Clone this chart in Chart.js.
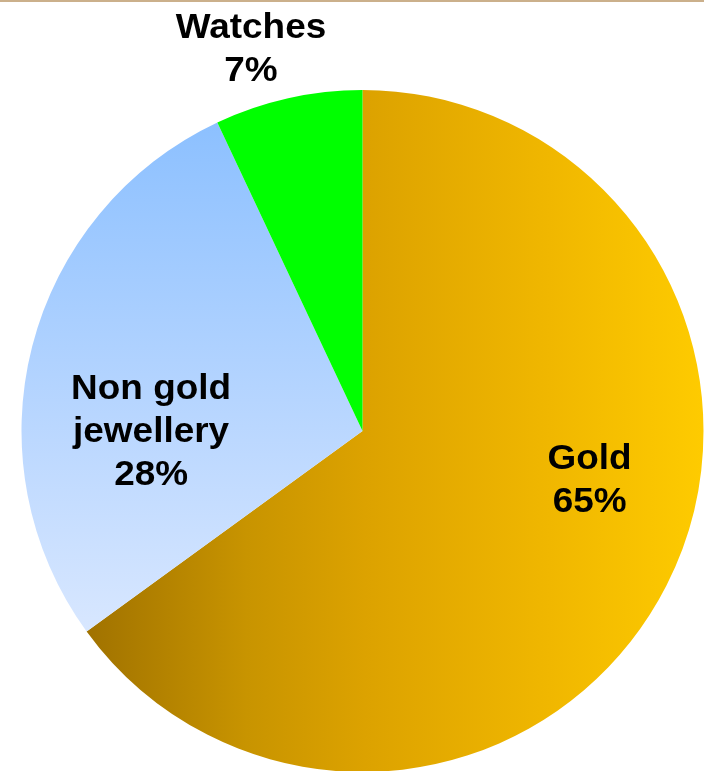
<!DOCTYPE html>
<html>
<head>
<meta charset="utf-8">
<script src="https://cdn.jsdelivr.net/npm/chart.js@4/dist/chart.umd.min.js"></script>
<style>
  html, body { margin: 0; padding: 0; background: #fff; overflow: hidden; width: 704px; height: 771px; }
  #topline { position: absolute; left: 0; top: 0; width: 704px; height: 2px; background: #CBB08B; z-index: 2; }
  #wrap { position: absolute; left: 0; top: 0; width: 704px; height: 800px; }
</style>
</head>
<body>
<div id="topline"></div>
<div id="wrap"><canvas id="c" width="704" height="800"></canvas></div>
<script>
const categories = ["Gold", "Non gold jewellery", "Watches"];
const values = [65, 28, 7];
const labelLines = [["Gold", "65%"], ["Non gold", "jewellery", "28%"], ["Watches", "7%"]];
// label block centre offsets, as fractions of the radius, from pie centre
const labelOffsets = [[0.666, 0.138], [-0.620, -0.004], [-0.327, -1.127]];

function pieGeom(chart) {
  const a = chart.chartArea;
  const meta = chart.getDatasetMeta(0);
  const el = meta.data[0];
  if (el && el.outerRadius) return { cx: el.x, cy: el.y, r: el.outerRadius };
  return { cx: (a.left + a.right) / 2, cy: (a.top + a.bottom) / 2, r: Math.min(a.right - a.left, a.bottom - a.top) / 2 };
}

function sliceColor(context) {
  const chart = context.chart;
  const a = chart.chartArea;
  if (!a) return '#E0A400';
  const g = pieGeom(chart);
  const ctx = chart.ctx;
  const i = context.dataIndex;
  if (i === 0) {
    const gr = ctx.createLinearGradient(g.cx - 0.81 * g.r, 0, g.cx + g.r, 0);
    gr.addColorStop(0, '#A07200');
    gr.addColorStop(0.26, '#C89400');
    gr.addColorStop(0.45, '#DCA200');
    gr.addColorStop(0.75, '#F0B700');
    gr.addColorStop(1, '#FECB00');
    return gr;
  }
  if (i === 1) {
    const gr = ctx.createLinearGradient(0, g.cy - 0.91 * g.r, 0, g.cy + 0.59 * g.r);
    gr.addColorStop(0, '#8CC0FF');
    gr.addColorStop(0.6, '#BAD7FF');
    gr.addColorStop(1, '#D8E7FF');
    return gr;
  }
  return '#00FF00';
}

const labelPlugin = {
  id: 'sliceLabels',
  afterDatasetsDraw(chart) {
    const ctx = chart.ctx;
    const g = pieGeom(chart);
    const fs = 35, lh = 43, cap = 25, sx = 1.055;
    ctx.save();
    ctx.font = 'bold ' + fs + 'px "Liberation Sans", Arial, sans-serif';
    ctx.fillStyle = '#000';
    ctx.textAlign = 'center';
    ctx.textBaseline = 'alphabetic';
    labelLines.forEach((lines, i) => {
      const x = g.cx + labelOffsets[i][0] * g.r;
      const cy = g.cy + labelOffsets[i][1] * g.r;
      const first = cy - (lines.length - 1) * lh / 2 + cap / 2;
      lines.forEach((t, k) => {
        ctx.save();
        ctx.translate(x, first + k * lh);
        ctx.scale(sx, 1);
        ctx.fillText(t, 0, 0);
        ctx.restore();
      });
    });
    ctx.restore();
  }
};

new Chart(document.getElementById('c'), {
  type: 'pie',
  data: {
    labels: categories,
    datasets: [{
      data: values,
      backgroundColor: sliceColor,
      borderWidth: 0,
      hoverOffset: 0
    }]
  },
  options: {
    responsive: false,
    animation: false,
    layout: { padding: { left: 21, right: 0, top: 90, bottom: 28 } },
    plugins: { legend: { display: false }, tooltip: { enabled: false } },
    events: []
  },
  plugins: [labelPlugin]
});
</script>
</body>
</html>
